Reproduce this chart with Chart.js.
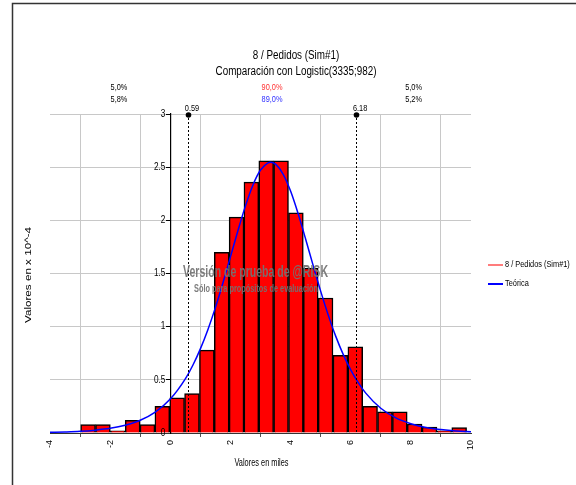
<!DOCTYPE html>
<html><head><meta charset="utf-8">
<script src="https://cdn.jsdelivr.net/npm/chart.js@4.4.1/dist/chart.umd.min.js"></script>
<style>html,body{margin:0;padding:0;background:#fff;}#wrap{width:576px;height:485px;position:relative;}</style>
</head><body><div id="wrap"><canvas id="c" width="576" height="485"></canvas></div>
<script>
// ---- data ----
const titleLines = ['8 / Pedidos (Sim#1)', 'Comparación con Logistic(3335;982)'];
const seriesNames = ['8 / Pedidos (Sim#1)', 'Teórica'];
const binCenters = [-2.733,-2.240,-1.746,-1.252,-0.759,-0.265,0.228,0.722,1.216,1.709,2.203,2.696,3.190,3.684,4.177,4.671,5.164,5.658,6.152,6.645,7.139,7.632,8.126,8.620,9.113,9.607];
const binValues  = [0.08,0.08,0.02,0.12,0.08,0.25,0.33,0.37,0.78,1.70,2.03,2.36,2.56,2.56,2.07,1.55,1.27,0.73,0.81,0.25,0.20,0.20,0.085,0.055,0.02,0.05];
const curveX = [-4,-3.5,-3,-2.5,-2,-1.5,-1,-0.5,0,0.5,0.75,1,1.25,1.5,1.75,2,2.25,2.5,2.75,3,3.25,3.335,3.5,3.75,4,4.25,4.5,4.75,5,5.25,5.5,5.75,6,6.25,6.5,7,7.5,8,8.5,9,9.5,10];
const curveY = [0.006,0.010,0.016,0.027,0.044,0.073,0.120,0.197,0.319,0.509,0.637,0.791,0.972,1.179,1.410,1.656,1.903,2.136,2.333,2.473,2.541,2.546,2.528,2.435,2.275,2.064,1.825,1.576,1.334,1.111,0.911,0.739,0.594,0.474,0.375,0.233,0.142,0.087,0.052,0.032,0.019,0.012];
const yTickLabels = ['0', '0.5', '1', '1.5', '2', '2.5', '3'];
const markerValues = [0.59, 6.18];
const markerLabels = ['0.59', '6.18'];
const pctTop = ['5,0%', '90,0%', '5,0%'];
const pctBottom = ['5,8%', '89,0%', '5,2%'];
const xAxisTitle = 'Valores en miles';
const yAxisTitle = 'Valores en x 10^-4';
const watermark = ['Versión de prueba de @RISK', 'Sólo para propósitos de evaluación'];

const NARROW = "'Liberation Sans Narrow','Arial Narrow','Liberation Sans',Arial,sans-serif";
const SANS = "'Liberation Sans',Arial,sans-serif";
const SX = 0.82; // narrow look

function txt(ctx, s, x, y, font, color, align, sx, rot) {
  ctx.save();
  ctx.translate(x, y);
  if (rot) ctx.rotate(rot);
  ctx.scale(sx || 1, 1);
  ctx.font = font; ctx.fillStyle = color;
  ctx.textAlign = align || 'center'; ctx.textBaseline = 'middle';
  ctx.fillText(s, 0, 0);
  ctx.restore();
}
function txtFit(ctx, s, x, y, font, color, width, rot) {
  ctx.save(); ctx.font = font; const w = ctx.measureText(s).width; ctx.restore();
  txt(ctx, s, x, y, font, color, 'center', width / w, rot);
}

const decor = {
  id: 'decor',
  beforeDraw(chart) {
    const ctx = chart.ctx;
    ctx.save();
    ctx.fillStyle = '#fff'; ctx.fillRect(0, 0, chart.width, chart.height);
    ctx.strokeStyle = '#333'; ctx.lineWidth = 1.5;
    ctx.beginPath(); ctx.moveTo(12.5, chart.height); ctx.lineTo(12.5, 3.5); ctx.lineTo(chart.width, 3.5); ctx.stroke();
    ctx.restore();
  },
  afterDatasetsDraw(chart) {
    const ctx = chart.ctx, xs = chart.scales.x, ys = chart.scales.y, ca = chart.chartArea;
    ctx.save();
    // y tick labels beside the x=0 axis
    const ax = xs.getPixelForValue(0);
    ys.ticks.forEach((t, i) => {
      txt(ctx, yTickLabels[i] !== undefined ? yTickLabels[i] : String(t.value), ax - 5, ys.getPixelForValue(t.value), '10px ' + SANS, '#000', 'right', SX);
    });
    // percentile markers
    const px = markerValues.map(v => xs.getPixelForValue(v));
    ctx.strokeStyle = '#000'; ctx.lineWidth = 1; ctx.setLineDash([2, 2]);
    px.forEach(p => { ctx.beginPath(); ctx.moveTo(Math.round(p) + 0.5, ca.top); ctx.lineTo(Math.round(p) + 0.5, ca.bottom); ctx.stroke(); });
    ctx.setLineDash([]);
    ctx.fillStyle = '#000';
    px.forEach((p, i) => {
      ctx.beginPath(); ctx.arc(Math.round(p) + 0.5, ca.top + 1, 2.8, 0, Math.PI * 2); ctx.fill();
      txt(ctx, markerLabels[i], p + 4, ca.top - 5, '9px ' + SANS, '#000', 'center', SX);
    });
    // percentage labels
    const edges = [xs.left, px[0], px[1], xs.right];
    const topCol = ['#000', '#ff3030', '#000'];
    const botCol = ['#000', '#3030ff', '#000'];
    for (let i = 0; i < 3; i++) {
      const cx = (edges[i] + edges[i + 1]) / 2;
      txt(ctx, pctTop[i], cx, ca.top - 26, '9px ' + SANS, topCol[i], 'center', SX);
      txt(ctx, pctBottom[i], cx, ca.top - 14, '9px ' + SANS, botCol[i], 'center', SX);
    }
    // titles
    txt(ctx, titleLines[0], 296, 56, '12px ' + SANS, '#000', 'center', SX);
    txt(ctx, titleLines[1], 296, 72, '12px ' + SANS, '#000', 'center', SX);
    // axis titles
    txtFit(ctx, xAxisTitle, (ca.left + ca.right) / 2 + 1, 463, '10px ' + SANS, '#000', 54);
    txtFit(ctx, yAxisTitle, 29, 275, '9px ' + SANS, '#000', 96, -Math.PI / 2);
    // legend
    const ds = chart.data.datasets;
    const legendCols = ['#ff5050', '#0000ff'];
    const ly = [265, 284];
    [0, 1].forEach(k => {
      ctx.strokeStyle = legendCols[k]; ctx.lineWidth = k ? 2 : 1.5;
      ctx.beginPath(); ctx.moveTo(488, ly[k]); ctx.lineTo(503, ly[k]); ctx.stroke();
      txt(ctx, ds[k].label, 505, ly[k], '9px ' + SANS, '#000', 'left', SX);
    });
    // watermark
    const wx = (ca.left + ca.right) / 2 - 5;
    txtFit(ctx, watermark[0], wx, 272, 'bold 17px ' + SANS, 'rgba(115,115,115,0.93)', 145);
    txtFit(ctx, watermark[1], wx + 0.5, 289, 'bold 11px ' + SANS, 'rgba(115,115,115,0.93)', 124);
    ctx.restore();
  }
};

new Chart(document.getElementById('c'), {
  data: {
    datasets: [
      {
        type: 'bar', label: seriesNames[0],
        data: binCenters.map((x, i) => ({ x: x, y: binValues[i] })),
        backgroundColor: '#ff0000', borderColor: '#000', borderWidth: 1.5,
        barPercentage: 1, categoryPercentage: 1, order: 2
      },
      {
        type: 'line', label: seriesNames[1],
        data: curveX.map((x, i) => ({ x: x, y: curveY[i] })),
        borderColor: '#0000ff', borderWidth: 1.5, pointRadius: 0,
        cubicInterpolationMode: 'monotone', fill: false, order: 1
      }
    ]
  },
  options: {
    responsive: false, animation: false, devicePixelRatio: 1,
    layout: { padding: { left: 50, right: 105, top: 114, bottom: 32 } },
    plugins: { legend: { display: false }, title: { display: false }, tooltip: { enabled: false } },
    scales: {
      x: {
        type: 'linear', min: -4, max: 10, offset: false,
        afterFit: s => { s.height = 20; },
        ticks: { stepSize: 2, minRotation: 90, maxRotation: 90, autoSkip: false, padding: 3,
                 font: { family: SANS, size: 9 }, color: '#000' },
        grid: { color: '#c8c8c8', lineWidth: 1, tickLength: 4, tickColor: '#555' },
        border: { color: '#333', width: 1 }
      },
      y: {
        type: 'linear', min: 0, max: 3, position: { x: 0 },
        ticks: { stepSize: 0.5, display: false },
        grid: { color: '#c8c8c8', lineWidth: 1, tickLength: 4, tickColor: '#000' },
        border: { color: '#000', width: 1.2 }
      }
    }
  },
  plugins: [decor]
});
</script></body></html>
